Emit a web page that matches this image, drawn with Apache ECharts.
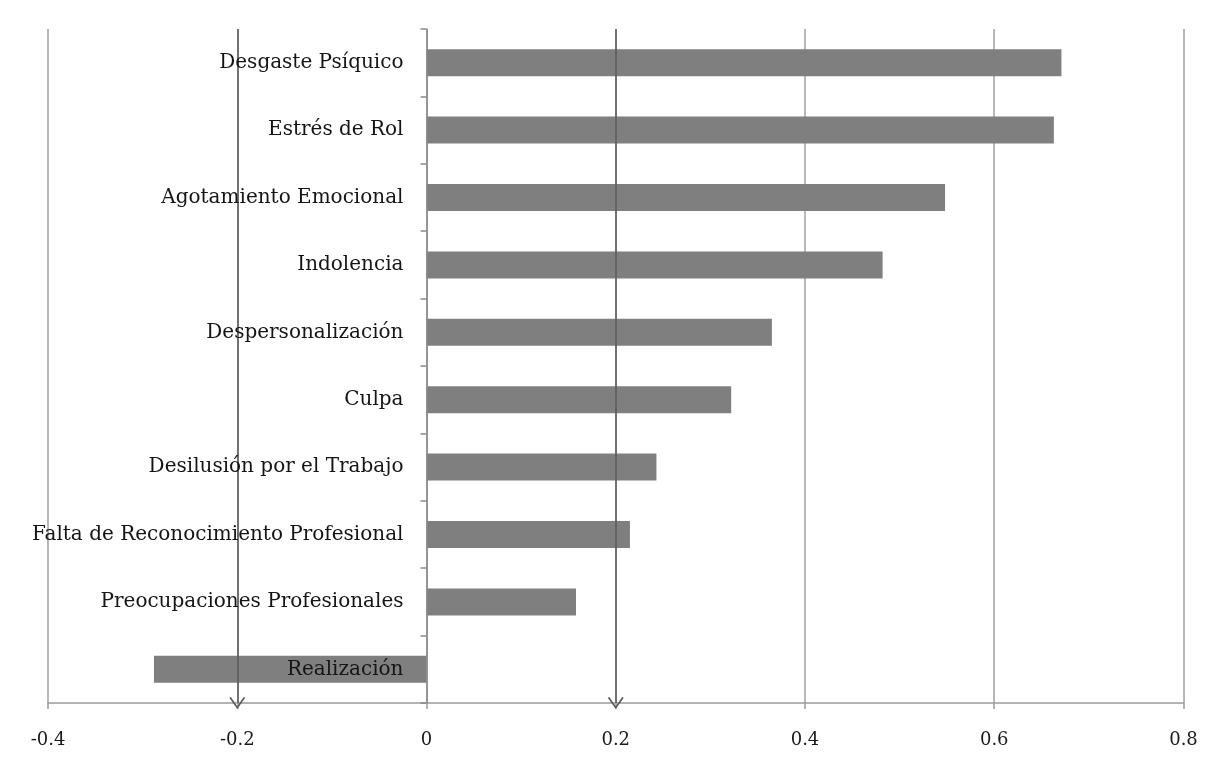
<!DOCTYPE html>
<html>
<head>
<meta charset="utf-8">
<script src="https://cdn.jsdelivr.net/npm/echarts@6/dist/echarts.min.js"></script>
<style>
  html, body { margin: 0; padding: 0; background: #ffffff; }
  #chart { width: 1205px; height: 766px; }
</style>
</head>
<body>
<div id="chart"></div>
<script>
// Burnout dimensions and their correlation coefficients
const categories = [
  'Desgaste Psíquico',
  'Estrés de Rol',
  'Agotamiento Emocional',
  'Indolencia',
  'Despersonalización',
  'Culpa',
  'Desilusión por el Trabajo',
  'Falta de Reconocimiento Profesional',
  'Preocupaciones Profesionales',
  'Realización'
];
const values = [0.671, 0.663, 0.548, 0.482, 0.365, 0.322, 0.243, 0.215, 0.158, -0.288];

// Reference thresholds marked with arrows
const thresholds = [-0.2, 0.2];

const axisMin = -0.4;
const axisMax = 0.8;
const axisStep = 0.2;

const W = 1205;
const gridLeft = 48, gridRight = 21.5, gridTop = 29, gridBottom = 63;
const gridWidth = W - gridLeft - gridRight;
// The category axis sits on the zero line: shift it right by that distance
const zeroOffset = -((0 - axisMin) / (axisMax - axisMin)) * gridWidth;

const serif = '"DejaVu Serif", "Liberation Serif", serif';
// Open chevron pointing along the line direction
const chevron = 'path://M0,9 L5,0 L10,9 L9,9.6 L5,2.2 L1,9.6 Z';

const chart = echarts.init(document.getElementById('chart'), null, { renderer: 'canvas' });

chart.setOption({
  animation: false,
  backgroundColor: '#ffffff',
  grid: {
    left: gridLeft, right: gridRight, top: gridTop, bottom: gridBottom,
    containLabel: false, outerBoundsMode: 'none'
  },
  xAxis: {
    type: 'value',
    min: axisMin,
    max: axisMax,
    interval: axisStep,
    axisLine: { show: true, onZero: false, lineStyle: { color: '#9a9a9a', width: 1.5 } },
    axisTick: { show: true, length: 6, lineStyle: { color: '#9a9a9a', width: 1.5 } },
    axisLabel: {
      margin: 28,
      color: '#1a1a1a',
      fontFamily: serif,
      fontSize: 18,
      formatter: v => (Math.round(v * 10) / 10).toString()
    },
    splitLine: { show: true, lineStyle: { color: '#a0a0a0', width: 1.5 } }
  },
  yAxis: {
    type: 'category',
    data: categories,
    inverse: true,
    offset: zeroOffset,
    axisLine: { show: true, onZero: false, lineStyle: { color: '#8a8a8a', width: 1.5 } },
    axisTick: { show: true, length: 6, lineStyle: { color: '#8a8a8a', width: 1.5 } },
    axisLabel: {
      margin: 23,
      color: '#151515',
      fontFamily: serif,
      fontSize: 20
    },
    splitLine: { show: false },
    z: 5
  },
  series: [{
    type: 'bar',
    data: values,
    barWidth: 27,
    itemStyle: { color: '#7f7f7f' },
    z: 2,
    markLine: {
      silent: true,
      symbol: ['none', chevron],
      symbolSize: [16, 12],
      label: { show: false },
      lineStyle: { color: '#5a5a5a', width: 1.5, type: 'solid' },
      data: thresholds.map(t => ({ xAxis: t }))
    }
  }]
});
</script>
</body>
</html>
